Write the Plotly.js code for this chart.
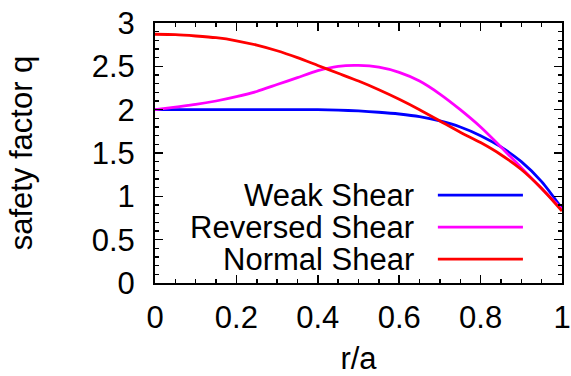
<!DOCTYPE html>
<html>
<head>
<meta charset="utf-8">
<script src="https://cdn.plot.ly/plotly-3.0.1.min.js"></script>
<style>html,body{margin:0;padding:0;background:#fff;}#chart{width:571px;height:376px;}</style>
</head>
<body>
<div id="chart"></div>
<script>
const r = [0, 0.05, 0.1, 0.15, 0.2, 0.25, 0.3, 0.35, 0.4, 0.45, 0.5, 0.55, 0.6, 0.65, 0.7, 0.75, 0.8, 0.85, 0.9, 0.95, 1.0];
const weakShear = [2.00, 2.00, 2.00, 2.00, 2.00, 2.00, 2.00, 2.00, 2.00, 1.995, 1.985, 1.97, 1.95, 1.92, 1.87, 1.80, 1.70, 1.57, 1.40, 1.17, 0.86];
const reversedShear = [2.00, 2.03, 2.06, 2.10, 2.15, 2.21, 2.29, 2.37, 2.45, 2.50, 2.51, 2.49, 2.43, 2.33, 2.18, 2.00, 1.80, 1.57, 1.33, 1.09, 0.85];
const normalShear = [2.87, 2.865, 2.85, 2.83, 2.795, 2.745, 2.68, 2.60, 2.51, 2.42, 2.33, 2.23, 2.12, 2.00, 1.87, 1.74, 1.62, 1.48, 1.31, 1.09, 0.83];
const seriesNames = ["Weak Shear", "Reversed Shear", "Normal Shear"];
const seriesColors = ["#0000ff", "#ff00ff", "#ff0000"];
const seriesData = [weakShear, reversedShear, normalShear];

const FONT = "Liberation Sans, Arial, Helvetica, sans-serif";
const FS = 31;

const traces = seriesData.map((d, i) => ({
  x: r, y: d, type: "scatter", mode: "lines", name: seriesNames[i],
  line: {color: seriesColors[i], width: 2.8, shape: "spline", smoothing: 0.7},
  showlegend: false, hoverinfo: "skip"
}));

// legend drawn gnuplot-style: text right-aligned, sample line to its right
const legY = [0.338, 0.215, 0.092];
const annotations = seriesNames.map((n, i) => ({
  xref: "paper", yref: "paper", x: 0.641, y: legY[i], xanchor: "right", yanchor: "middle",
  text: n, showarrow: false, font: {family: FONT, size: FS, color: "#000"}
}));
const shapes = seriesNames.map((n, i) => ({
  type: "line", xref: "paper", yref: "paper", x0: 0.695, x1: 0.904, y0: legY[i], y1: legY[i],
  line: {color: seriesColors[i], width: 2.8}
}));

const layout = {
  width: 571, height: 376,
  margin: {l: 155, r: 9, t: 23, b: 93, pad: 0},
  paper_bgcolor: "#fff", plot_bgcolor: "#fff",
  font: {family: FONT, size: FS, color: "#000"},
  xaxis: {
    range: [0, 1], dtick: 0.2, tick0: 0, showgrid: false, zeroline: false,
    showline: true, linecolor: "#000", linewidth: 2, mirror: "allticks",
    ticks: "inside", ticklen: 8, tickwidth: 1.5, tickcolor: "#000",
    minor: {dtick: 0.05, ticks: "inside", ticklen: 4, tickwidth: 1.5, tickcolor: "#000", showgrid: false},
    ticklabelstandoff: 6,
    tickfont: {family: FONT, size: FS, color: "#000"},
    title: {text: "r/a", font: {family: FONT, size: FS, color: "#000"}, standoff: 14}
  },
  yaxis: {
    range: [0, 3], dtick: 0.5, tick0: 0, showgrid: false, zeroline: false,
    showline: true, linecolor: "#000", linewidth: 2, mirror: "allticks",
    ticks: "inside", ticklen: 8, tickwidth: 1.5, tickcolor: "#000",
    minor: {dtick: 0.1, ticks: "inside", ticklen: 4, tickwidth: 1.5, tickcolor: "#000", showgrid: false},
    ticklabelstandoff: 12,
    tickfont: {family: FONT, size: FS, color: "#000"},
    title: {text: "safety factor q", font: {family: FONT, size: FS, color: "#000"}, standoff: 50}
  },
  annotations: annotations,
  shapes: shapes,
  showlegend: false
};

Plotly.newPlot("chart", traces, layout, {staticPlot: true, displayModeBar: false});
</script>
</body>
</html>
